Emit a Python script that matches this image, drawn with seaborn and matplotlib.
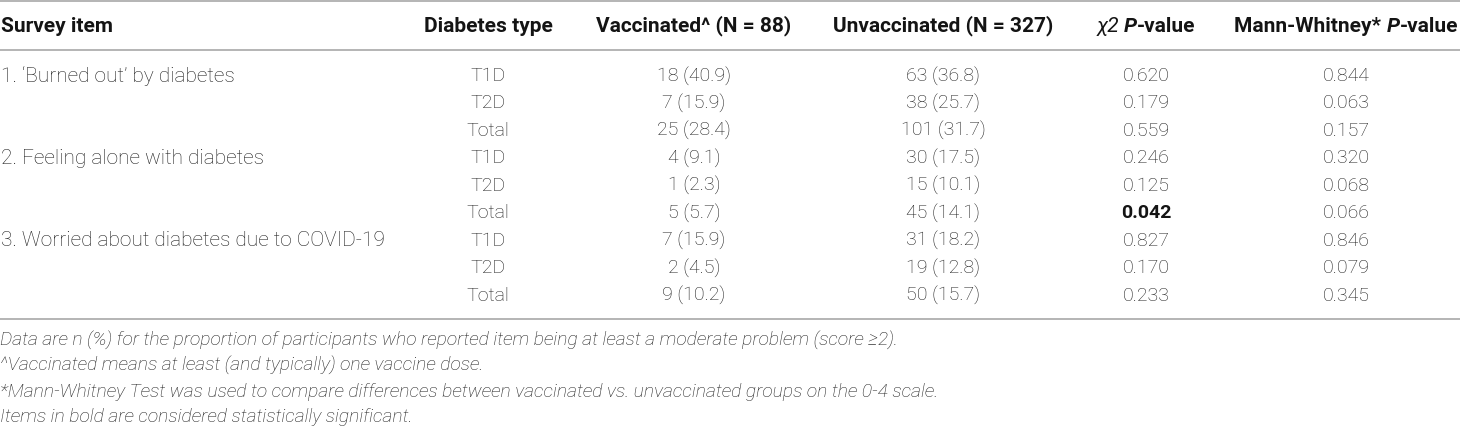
import matplotlib
matplotlib.use("Agg")
import matplotlib.pyplot as plt
import seaborn as sns

# ---------------------------------------------------------------------------
# table data
# ---------------------------------------------------------------------------
survey_items = [
    "1. \u2018Burned out\u2019 by diabetes",
    "2. Feeling alone with diabetes",
    "3. Worried about diabetes due to COVID-19",
]
diabetes_types = ["T1D", "T2D", "Total"]
vaccinated = ["18 (40.9)", "7 (15.9)", "25 (28.4)",
              "4 (9.1)", "1 (2.3)", "5 (5.7)",
              "7 (15.9)", "2 (4.5)", "9 (10.2)"]
unvaccinated = ["63 (36.8)", "38 (25.7)", "101 (31.7)",
                "30 (17.5)", "15 (10.1)", "45 (14.1)",
                "31 (18.2)", "19 (12.8)", "50 (15.7)"]
chi2_p = [0.620, 0.179, 0.559, 0.246, 0.125, 0.042, 0.827, 0.170, 0.233]
mw_p = [0.844, 0.063, 0.157, 0.320, 0.068, 0.066, 0.846, 0.079, 0.345]

# header pieces: (text, style, weight)
headers = [
    [("Survey item", "normal", "bold")],
    [("Diabetes type", "normal", "bold")],
    [("Vaccinated^ (N = 88)", "normal", "bold")],
    [("Unvaccinated (N = 327)", "normal", "bold")],
    [("\u03c72 ", "italic", "normal"), ("P", "italic", "bold"), ("-value", "normal", "bold")],
    [("Mann-Whitney* ", "normal", "bold"), ("P", "italic", "bold"), ("-value", "normal", "bold")],
]
footnotes = [
    "Data are n (%) for the proportion of participants who reported item being at least a moderate problem (score \u22652).",
    "^Vaccinated means at least (and typically) one vaccine dose.",
    "*Mann-Whitney Test was used to compare differences between vaccinated vs. unvaccinated groups on the 0-4 scale.",
    "Items in bold are considered statistically significant.",
]

# ---------------------------------------------------------------------------
# layout (pixel units)
# ---------------------------------------------------------------------------
W, H = 1460, 428
col_x = [1, 488, 694, 943, 1146, 1346]
header_y = 26
row_y0, row_step = 76, 27.45
rule_ys = [1, 50, 319]
foot_y0, foot_step = 340, 25.8
fs = 14.0
fs_item = 15.0
fs_foot = 13.9
fs_head = 15.0
txt_col = "#1e1e1e"
rule_col = "#a8a8a8"

sns.set_theme(style="white")
plt.rcParams["font.family"] = ["Roboto", "DejaVu Sans"]

fig = plt.figure(figsize=(W / 100, H / 100), dpi=100)
ax = fig.add_axes([0, 0, 1, 1])
ax.set_xlim(0, W)
ax.set_ylim(H, 0)
ax.axis("off")

for y in rule_ys:
    ax.axhline(y, color=rule_col, lw=1.2)

renderer = fig.canvas.get_renderer()


def draw_pieces(x, y, pieces, align):
    # header made of several styled pieces, centred or left aligned
    objs = []
    for s, style, weight in pieces:
        t = ax.text(0, y, s, fontsize=fs_head, fontstyle=style, fontweight=weight,
                    color="#141414", va="center", ha="left")
        objs.append(t)
    widths = [t.get_window_extent(renderer).width for t in objs]
    start = x if align == "left" else x - sum(widths) / 2
    for t, w in zip(objs, widths):
        t.set_x(start)
        start += w


for i, pieces in enumerate(headers):
    draw_pieces(col_x[i], header_y, pieces, "left" if i == 0 else "center")

n_types = len(diabetes_types)
for r in range(len(vaccinated)):
    y = row_y0 + r * row_step
    if r % n_types == 0:
        ax.text(col_x[0], y, survey_items[r // n_types], fontsize=fs_item, fontweight="light",
                color=txt_col, va="center", ha="left")
    ax.text(col_x[1], y, diabetes_types[r % n_types], fontsize=fs, fontweight="light",
            color=txt_col, va="center", ha="center")
    ax.text(col_x[2], y, vaccinated[r], fontsize=fs, fontweight="light",
            color=txt_col, va="center", ha="center")
    ax.text(col_x[3], y, unvaccinated[r], fontsize=fs, fontweight="light",
            color=txt_col, va="center", ha="center")
    sig = chi2_p[r] < 0.05
    ax.text(col_x[4], y, f"{chi2_p[r]:.3f}", fontsize=fs,
            fontweight="bold" if sig else "light",
            color="#141414" if sig else txt_col, va="center", ha="center")
    ax.text(col_x[5], y, f"{mw_p[r]:.3f}", fontsize=fs, fontweight="light",
            color=txt_col, va="center", ha="center")

for k, note in enumerate(footnotes):
    ax.text(0, foot_y0 + k * foot_step, note, fontsize=fs_foot, fontstyle="italic",
            fontweight="light", color=txt_col, va="center", ha="left")

fig.savefig("out.png", dpi=100)
